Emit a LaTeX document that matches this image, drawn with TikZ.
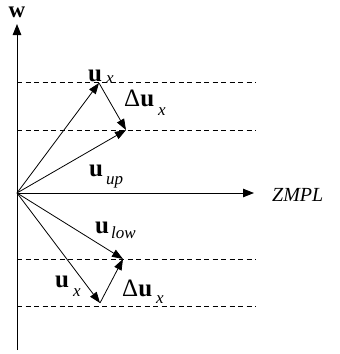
\documentclass[tikz,border=0pt]{standalone}
\usepackage{fontspec}
\setmainfont{Liberation Serif}
\usetikzlibrary{arrows.meta}
\newcommand{\lbmain}[1]{{\fontsize{25}{25}\selectfont #1}}
\newcommand{\lbsub}[2]{\raisebox{#1}{\fontsize{17}{17}\selectfont\itshape #2}}
\begin{document}
\begin{tikzpicture}[x=1pt,y=-1pt,
  vec/.style={line width=0.8pt,-{Triangle[length=11pt,width=8pt]}},
  axis/.style={line width=0.9pt,-{Triangle[length=11pt,width=8.5pt]}},
  guide/.style={line width=0.7pt,dash pattern=on 5pt off 3.5pt},
  lbl/.style={inner sep=0pt,anchor=base west}]
\useasboundingbox (0,0) rectangle (340,354);
\coordinate (O) at (17,193);
\coordinate (ybot) at (17,350);
\coordinate (ytop) at (17,24);
\coordinate (xend) at (254,193);
\coordinate (A) at (99,83);
\coordinate (B) at (126,130);
\coordinate (C) at (123,259);
\coordinate (D) at (100,303);
\coordinate (d1a) at (17,82);\coordinate (d1b) at (256,82);
\coordinate (d2a) at (17,130);\coordinate (d2b) at (256,130);
\coordinate (d3a) at (17,259);\coordinate (d3b) at (256,259);
\coordinate (d4a) at (17,306);\coordinate (d4b) at (256,306);
\draw[guide] (d1a) -- (d1b);
\draw[guide] (d2a) -- (d2b);
\draw[guide] (d3a) -- (d3b);
\draw[guide] (d4a) -- (d4b);
\draw[axis] (ybot) -- (ytop);
\draw[axis] (O) -- (xend);
\draw[vec] (O) -- (A);
\draw[vec] (A) -- (B);
\draw[vec] (O) -- (B);
\draw[vec] (O) -- (C);
\draw[vec] (O) -- (D);
\draw[vec] (D) -- (C);
\node[inner sep=0pt,anchor=base,font=\fontsize{23}{23}\selectfont\bfseries] (w) at (17,17) {w};
\node[lbl,font=\fontsize{20}{20}\selectfont\itshape] (zmpl) at (272,201) {ZMPL};
\node[lbl] (l1) at (88,81) {\lbmain{\textbf{u}}\hspace{4pt}\lbsub{-2pt}{x}};
\node[lbl] (l2) at (124,106) {\lbmain{Δ\textbf{u}}\hspace{4pt}\lbsub{-9pt}{x}};
\node[lbl] (l3) at (89,176) {\lbmain{\textbf{u}}\hspace{3pt}\lbsub{-8pt}{up}};
\node[lbl] (l4) at (95,233) {\lbmain{\textbf{u}}\hspace{2pt}\lbsub{-5pt}{low}};
\node[lbl] (l5) at (55,287) {\lbmain{\textbf{u}}\hspace{4pt}\lbsub{-9pt}{x}};
\node[lbl] (l6) at (122,296) {\lbmain{Δ\textbf{u}}\hspace{4pt}\lbsub{-7pt}{x}};
\end{tikzpicture}
\end{document}
